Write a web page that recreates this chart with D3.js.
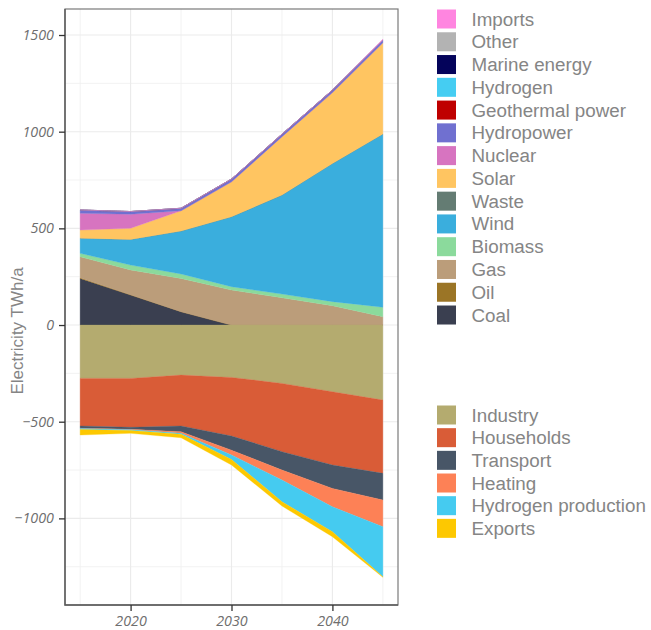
<!DOCTYPE html>
<html>
<head>
<meta charset="utf-8">
<script src="https://cdn.jsdelivr.net/npm/d3@7"></script>
<style>
  html, body { margin: 0; padding: 0; background: #fff; }
  svg { display: block; font-family: "Liberation Sans", Arial, sans-serif; }
</style>
</head>
<body>
<svg id="chart" width="651" height="630"></svg>
<script>
// Years on the x axis
const years = [2015, 2020, 2025, 2030, 2035, 2040, 2045];

// Electricity supply by source, TWh/a
const imports     = [0, 0, 0, 0, 0, 0, 4];
const other       = [0, 0, 0, 0, 0, 0, 0];
const marine      = [0, 0, 0, 0, 0, 0, 0];
const hydrogen    = [0, 0, 0, 0, 0, 0, 0];
const geothermal  = [0, 0, 0, 0, 0, 0, 0];
const hydropower  = [17, 14, 13, 14, 13, 13, 14];
const nuclear     = [87, 73, 0, 0, 0, 0, 0];
const solar       = [42, 57, 105, 181, 302, 367, 472];
const waste       = [0, 0, 0, 0, 0, 0, 0];
const wind        = [78, 133, 222, 362, 512, 714, 896];
const biomass     = [18, 25, 23, 17, 19, 21, 49];
const gas         = [109, 128, 172, 181, 141, 100, 43];
const oil         = [3, 2, 0, 0, 0, 0, 0];
const coal        = [241, 155, 69, 0, 0, 0, 0];

// Electricity demand by use, TWh/a (drawn below zero)
const industry    = [276, 276, 259, 271, 302, 345, 388];
const households  = [246, 253, 263, 303, 353, 379, 379];
const transport   = [12, 10, 30, 73, 95, 121, 138];
const heating     = [1, 2, 8, 25, 52, 95, 138];
const h2prod      = [5, 5, 5, 23, 112, 129, 259];
const exportsArr  = [29, 14, 18, 29, 22, 26, 3];

// Axis ticks
const yTicks = [-1000, -500, 0, 500, 1000, 1500];
const yMinor = [-1250, -750, -250, 250, 750, 1250];
const xTicks = [2020, 2030, 2040];
const xMinor = [2015, 2025, 2035, 2045];

// Series in legend order (top of legend first)
const supply = [
  { name: "Imports",          values: imports,    color: "#ff85e0" },
  { name: "Other",            values: other,      color: "#b3b3b3" },
  { name: "Marine energy",    values: marine,     color: "#04035a" },
  { name: "Hydrogen",         values: hydrogen,   color: "#45cdf2" },
  { name: "Geothermal power", values: geothermal, color: "#bf0000" },
  { name: "Hydropower",       values: hydropower, color: "#7070d0" },
  { name: "Nuclear",          values: nuclear,    color: "#d774c0" },
  { name: "Solar",            values: solar,      color: "#ffc561" },
  { name: "Waste",            values: waste,      color: "#647c73" },
  { name: "Wind",             values: wind,       color: "#3aaedd" },
  { name: "Biomass",          values: biomass,    color: "#8bda9c" },
  { name: "Gas",              values: gas,        color: "#bb9d7a" },
  { name: "Oil",              values: oil,        color: "#9b7526" },
  { name: "Coal",             values: coal,       color: "#3a3f50" }
];
const demand = [
  { name: "Industry",            values: industry,   color: "#b4ab6f" },
  { name: "Households",          values: households, color: "#d95c37" },
  { name: "Transport",           values: transport,  color: "#485667" },
  { name: "Heating",             values: heating,    color: "#fd8156" },
  { name: "Hydrogen production", values: h2prod,     color: "#45cbf0" },
  { name: "Exports",             values: exportsArr, color: "#fdc801" }
];

const panel = { left: 65, right: 398, top: 9, bottom: 605 };
const x = d3.scaleLinear().domain([2013.5, 2046.5]).range([panel.left, panel.right]);
const y = d3.scaleLinear().domain([-1448, 1634.5]).range([panel.bottom, panel.top]);

const svg = d3.select("#chart");

// Grid
const grid = svg.append("g");
grid.selectAll(".ym").data(yMinor).join("line")
  .attr("x1", panel.left).attr("x2", panel.right)
  .attr("y1", d => y(d)).attr("y2", d => y(d))
  .attr("stroke", "#f0f0f0").attr("stroke-width", 0.9);
grid.selectAll(".xm").data(xMinor).join("line")
  .attr("y1", panel.top).attr("y2", panel.bottom)
  .attr("x1", d => x(d)).attr("x2", d => x(d))
  .attr("stroke", "#f0f0f0").attr("stroke-width", 0.9);
grid.selectAll(".yM").data(yTicks).join("line")
  .attr("x1", panel.left).attr("x2", panel.right)
  .attr("y1", d => y(d)).attr("y2", d => y(d))
  .attr("stroke", "#ebebeb").attr("stroke-width", 1.1);
grid.selectAll(".xM").data(xTicks).join("line")
  .attr("y1", panel.top).attr("y2", panel.bottom)
  .attr("x1", d => x(d)).attr("x2", d => x(d))
  .attr("stroke", "#ebebeb").attr("stroke-width", 1.1);

// Stacked areas: supply upward from zero, demand downward
const supplyRows = years.map((yr, i) => {
  const r = { year: yr };
  supply.forEach(s => r[s.name] = s.values[i]);
  return r;
});
const demandRows = years.map((yr, i) => {
  const r = { year: yr };
  demand.forEach(s => r[s.name] = -s.values[i]);
  return r;
});
const supplyStack = d3.stack().keys(supply.map(s => s.name).reverse())(supplyRows);
const demandStack = d3.stack().keys(demand.map(s => s.name))(demandRows);

const area = d3.area()
  .x(d => x(d.data.year))
  .y0(d => y(d[0]))
  .y1(d => y(d[1]));

const colorOf = {};
supply.concat(demand).forEach(s => colorOf[s.name] = s.color);

svg.append("g").selectAll("path")
  .data(supplyStack.concat(demandStack))
  .join("path")
  .attr("d", area)
  .attr("fill", d => colorOf[d.key])
  .attr("stroke", d => colorOf[d.key])
  .attr("stroke-width", 0.3);

// Panel border
svg.append("rect")
  .attr("x", panel.left).attr("y", panel.top)
  .attr("width", panel.right - panel.left).attr("height", panel.bottom - panel.top)
  .attr("fill", "none").attr("stroke", "#7a7a7a").attr("stroke-width", 1.2);
svg.append("path")
  .attr("d", `M${panel.left},${panel.top}V${panel.bottom}H${panel.right}`)
  .attr("fill", "none").attr("stroke", "#5a5a5a").attr("stroke-width", 1.4);

// Axes
const yAxis = svg.append("g")
  .attr("transform", `translate(${panel.left},0)`)
  .call(d3.axisLeft(y).tickValues(yTicks).tickSize(6).tickPadding(5).tickFormat(d3.format("d")));
const xAxis = svg.append("g")
  .attr("transform", `translate(0,${panel.bottom})`)
  .call(d3.axisBottom(x).tickValues(xTicks).tickSize(6).tickPadding(5).tickFormat(d3.format("d")));
[yAxis, xAxis].forEach(a => {
  a.select(".domain").remove();
  a.selectAll(".tick line").attr("stroke", "#333").attr("stroke-width", 1.3);
  a.selectAll(".tick text")
    .attr("fill", "#6e6e6e")
    .style("font-family", "'Open Sans', 'Liberation Sans', sans-serif")
    .style("font-style", "italic")
    .style("font-size", "14.3px");
});

// Axis title
svg.append("text")
  .attr("transform", "translate(17,331) rotate(-90)")
  .attr("text-anchor", "middle")
  .attr("dominant-baseline", "central")
  .attr("fill", "#858585")
  .style("font-size", "17px")
  .text("Electricity TWh/a");

// Legends
function legend(items, top, step) {
  const g = svg.append("g");
  const row = g.selectAll("g").data(items).join("g")
    .attr("transform", (d, i) => `translate(437,${top + i * step})`);
  row.append("rect")
    .attr("x", 0).attr("y", -9.5).attr("width", 19).attr("height", 19)
    .attr("fill", d => d.color);
  row.append("text")
    .attr("x", 34.5).attr("y", 0)
    .attr("dominant-baseline", "central")
    .attr("fill", "#858585")
    .style("font-size", "18.8px")
    .text(d => d.name);
}
legend(supply, 19, 22.77);
legend(demand, 415, 22.67);
</script>
</body>
</html>
